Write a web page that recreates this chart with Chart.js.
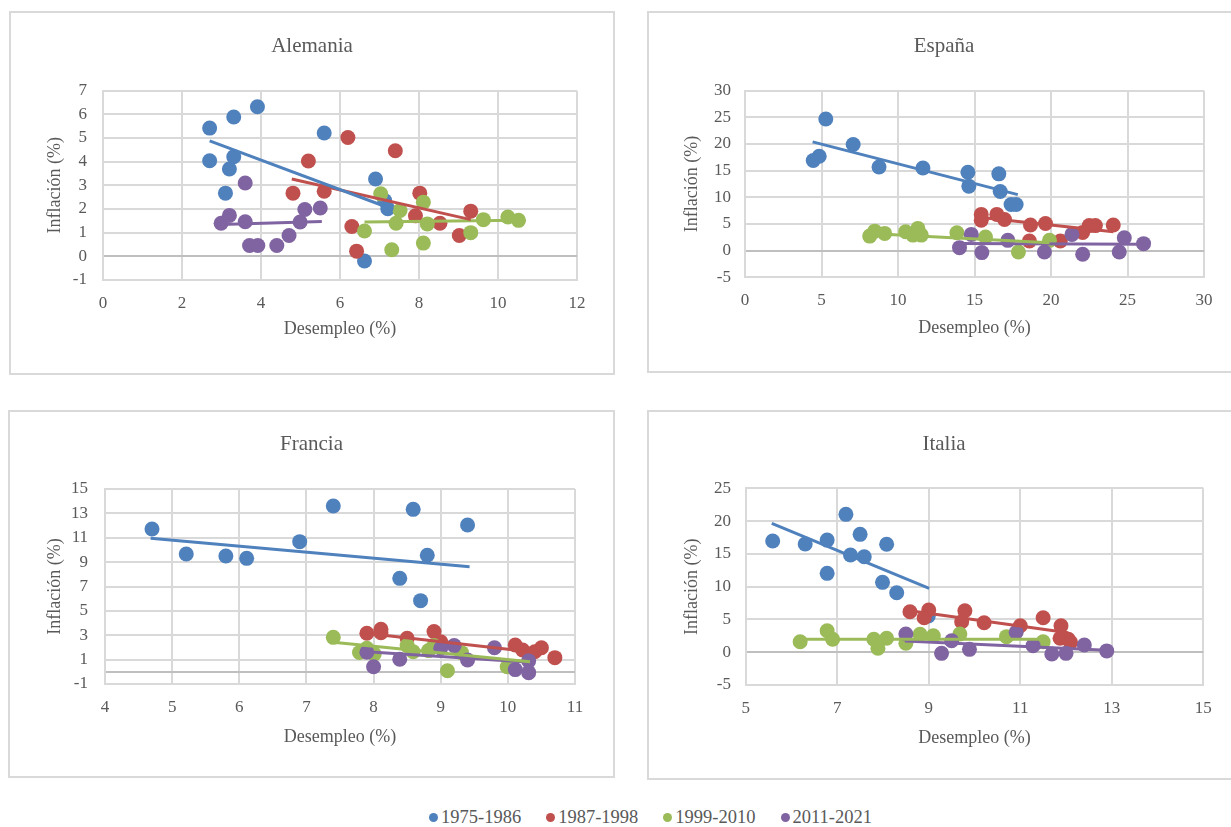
<!DOCTYPE html>
<html lang="es">
<head>
<meta charset="UTF-8">
<title>Inflación y desempleo: Alemania, España, Francia, Italia</title>
<script src="https://cdn.jsdelivr.net/npm/chart.js"></script>
<style>
  body {
    margin: 0;
    width: 1231px;
    height: 827px;
    overflow: hidden;
    background: #fff;
    position: relative;
    font-family: "Liberation Serif", "Times New Roman", serif;
  }
  .panel {
    position: absolute;
    box-sizing: border-box;
    border: 2px solid #d9d9d9;
    background: #fff;
  }
  .panel canvas { display: block; }
  #p1 { left: 9px; top: 11px; width: 606px; height: 364px; }
  #p2 { left: 647px; top: 11px; width: 594px; height: 362px; }
  #p3 { left: 8px; top: 410px; width: 607px; height: 368px; }
  #p4 { left: 647px; top: 410px; width: 594px; height: 370px; }
  .legend {
    position: absolute;
    left: 429px;
    top: 807px;
    display: flex;
    gap: 25px;
    font-size: 18.5px;
    color: #595959;
  }
  .legend span { display: flex; align-items: center; }
  .legend i {
    display: inline-block;
    width: 9px;
    height: 9px;
    border-radius: 50%;
    margin-right: 3px;
  }
</style>
</head>
<body>
<div class="panel" id="p1"><canvas id="alemania" width="602" height="360"></canvas></div>
<div class="panel" id="p2"><canvas id="espana" width="590" height="358"></canvas></div>
<div class="panel" id="p3"><canvas id="francia" width="603" height="364"></canvas></div>
<div class="panel" id="p4"><canvas id="italia" width="590" height="366"></canvas></div>

<div class="legend" id="leyenda"></div>

<script>
// periodos y colores
const periodos = ['1975-1986', '1987-1998', '1999-2010', '2011-2021'];
const colores = ['#4f81bd', '#c0504d', '#9bbb59', '#8064a2'];

// Alemania: [desempleo, inflación]
const alemania1975 = [[2.70,5.42],[3.31,5.89],[3.91,6.32],[5.60,5.21],[2.70,4.04],[3.31,4.21],[3.20,3.69],[3.10,2.67],[6.90,3.27],[7.13,2.36],[7.21,2.01],[6.62,-0.20]];
const alemania1987 = [[6.20,5.02],[7.40,4.46],[5.20,4.03],[4.81,2.67],[5.60,2.75],[8.02,2.67],[9.31,1.91],[7.91,1.71],[8.53,1.40],[6.30,1.26],[9.02,0.88],[6.42,0.22]];
const alemania1999 = [[7.03,2.64],[8.11,2.29],[7.52,1.94],[7.42,1.40],[8.21,1.37],[9.63,1.55],[10.25,1.66],[10.52,1.52],[9.31,1.00],[6.62,1.07],[7.31,0.28],[8.11,0.56]];
const alemania2011 = [[3.60,3.10],[3.20,1.73],[2.99,1.40],[3.60,1.46],[5.11,1.98],[5.50,2.04],[4.99,1.45],[4.71,0.88],[3.71,0.46],[3.92,0.46],[4.40,0.46]];
const alemaniaTend = [
  [[2.70,4.88],[7.35,1.98]],
  [[4.78,3.27],[9.31,1.55]],
  [[6.62,1.45],[10.52,1.52]],
  [[2.99,1.35],[5.54,1.47]]
];

// España
const espana1975 = [[5.28,24.7],[7.07,19.9],[4.85,17.7],[4.46,16.9],[8.76,15.7],[11.63,15.5],[14.57,14.7],[14.63,12.1],[16.59,14.4],[16.68,11.1],[17.39,8.65],[17.72,8.65]];
const espana1987 = [[15.44,6.8],[16.46,6.8],[15.44,5.7],[16.96,5.85],[18.66,4.8],[19.64,5.1],[22.5,4.7],[22.9,4.7],[24.07,4.8],[22.07,3.4],[18.59,1.8],[20.61,1.8]];
const espana1999 = [[8.15,2.73],[8.48,3.66],[9.13,3.23],[10.5,3.55],[10.98,2.92],[11.3,4.17],[11.52,2.92],[13.85,3.36],[15.72,2.54],[19.9,1.93],[17.87,-0.26]];
const espana2011 = [[14.79,3.05],[14.02,0.56],[15.48,-0.37],[17.18,1.93],[19.57,-0.26],[21.37,3.05],[22.07,-0.69],[24.46,-0.26],[24.79,2.43],[26.05,1.31]];
const espanaTend = [
  [[4.42,20.4],[17.83,10.5]],
  [[15.44,6.2],[24.07,3.55]],
  [[8.15,3.23],[19.9,1.5]],
  [[14.02,1.36],[26.05,1.2]]
];

// Francia
const francia1975 = [[4.70,11.72],[5.21,9.67],[5.80,9.50],[6.11,9.31],[6.90,10.68],[7.40,13.61],[8.59,13.33],[9.40,12.05],[8.80,9.56],[8.39,7.67],[8.70,5.84]];
const francia1987 = [[7.90,3.16],[8.11,3.49],[8.11,3.2],[8.50,2.75],[8.90,3.30],[9.0,2.47],[10.11,2.2],[10.22,1.79],[10.40,1.65],[10.50,1.98],[10.70,1.16]];
const francia1999 = [[7.40,2.83],[7.79,1.59],[7.90,1.93],[8.01,1.46],[8.50,2.15],[8.59,1.65],[8.82,1.74],[8.90,2.15],[9.31,1.57],[9.10,0.09],[9.99,0.42]];
const francia2011 = [[7.90,1.6],[8.0,0.42],[8.39,1.03],[9.0,1.93],[9.20,2.15],[9.40,0.97],[9.80,1.98],[10.11,0.18],[10.31,0.9],[10.31,-0.07]];
const franciaTend = [
  [[4.68,10.95],[9.43,8.63]],
  [[7.82,3.21],[10.53,1.52]],
  [[7.40,2.42],[10.33,0.83]],
  [[7.90,1.65],[10.33,0.78]]
];
const franciaTicksY = [-1, 0, 1, 3, 5, 7, 9, 11, 13, 15];

// Italia
const italia1975 = [[7.19,21.03],[5.59,16.96],[6.30,16.5],[6.78,17.1],[7.50,17.98],[8.08,16.46],[7.29,14.83],[7.59,14.57],[6.78,12.03],[7.99,10.66],[8.30,9.08],[8.99,5.52]];
const italia1987 = [[8.59,6.18],[9.0,6.44],[8.90,5.26],[9.79,6.33],[9.72,4.65],[10.21,4.5],[11.0,4.04],[11.50,5.26],[11.89,4.04],[11.87,2.12],[12.05,1.97],[12.1,1.5]];
const italia1999 = [[6.19,1.6],[6.78,3.28],[6.90,1.97],[7.80,1.97],[7.89,0.6],[8.08,2.12],[8.50,1.36],[8.81,2.73],[9.10,2.52],[9.68,2.78],[10.70,2.37],[11.50,1.6]];
const italia2011 = [[8.50,2.78],[9.28,-0.17],[9.50,1.75],[9.89,0.44],[10.91,3.04],[11.28,1.0],[11.69,-0.27],[12.0,-0.17],[12.40,1.1],[12.89,0.2]];
const italiaTend = [
  [[5.57,19.66],[9.01,9.75]],
  [[8.59,6.33],[12.05,2.97]],
  [[6.19,1.97],[11.5,1.97]],
  [[8.48,1.71],[12.89,0.3]]
];

const fuente = "'Liberation Serif', 'Times New Roman', serif";
const gris = '#595959';
const rejilla = '#d9d9d9';

function aPuntos(lista) {
  return lista.map(p => ({ x: p[0], y: p[1] }));
}

function grafico(id, titulo, series, tendencias, c) {
  const datasets = [];
  series.forEach((s, i) => {
    datasets.push({
      label: periodos[i],
      data: aPuntos(s),
      backgroundColor: colores[i],
      borderWidth: 0,
      pointRadius: 7.5,
      pointHoverRadius: 7.5,
      order: 10 - i
    });
  });
  tendencias.forEach((t, i) => {
    datasets.push({
      label: 'Lineal (' + periodos[i] + ')',
      data: aPuntos(t),
      showLine: true,
      borderColor: colores[i],
      borderWidth: 3,
      pointRadius: 0,
      fill: false,
      order: 0
    });
  });

  new Chart(document.getElementById(id), {
    type: 'scatter',
    data: { datasets },
    options: {
      responsive: false,
      animation: false,
      layout: { padding: 0 },
      plugins: {
        legend: { display: false },
        tooltip: { enabled: false },
        title: {
          display: true,
          text: titulo,
          color: gris,
          font: { family: fuente, size: 21, weight: 'normal' },
          padding: { top: c.tTop, bottom: c.tBottom }
        }
      },
      scales: {
        x: {
          type: 'linear',
          min: c.xMin, max: c.xMax,
          ticks: { stepSize: c.xStep, padding: 13, color: gris, font: { family: fuente, size: 17 } },
          grid: { color: rejilla, lineWidth: 2, drawTicks: false },
          border: { color: rejilla, width: 2 },
          title: {
            display: true, text: 'Desempleo (%)', color: gris,
            font: { family: fuente, size: 18 },
            padding: { top: 0, bottom: c.xTitle }
          },
          afterFit: s => { s.height = c.xH; }
        },
        y: {
          type: 'linear',
          min: c.yMin, max: c.yMax,
          afterBuildTicks: c.yTicks ? (s => { s.ticks = c.yTicks.map(v => ({ value: v })); }) : undefined,
          ticks: {
            stepSize: c.yStep, padding: c.yPad, color: gris, autoSkip: false,
            font: { family: fuente, size: 17 },
            callback: v => (c.yTicks && v === 0) ? '' : v
          },
          grid: {
            color: ctx => (ctx.tick && ctx.tick.value === 0) ? '#bfbfbf' : rejilla,
            lineWidth: 2, drawTicks: false
          },
          border: { color: rejilla, width: 2 },
          title: {
            display: true, text: 'Inflación (%)', color: gris,
            font: { family: fuente, size: 18 },
            padding: { top: c.yTitle, bottom: 0 }
          },
          afterFit: s => { s.width = c.yW; }
        },
        // margen derecho vacío, para que el título quede centrado en todo el recuadro
        margen: {
          type: 'linear',
          position: 'right',
          display: true,
          grid: { display: false, drawTicks: false },
          border: { display: false },
          ticks: { display: false },
          afterFit: s => { s.width = c.right; }
        }
      }
    }
  });
}

grafico('alemania', 'Alemania',
  [alemania1975, alemania1987, alemania1999, alemania2011], alemaniaTend,
  { xMin: 0, xMax: 12, xStep: 2, yMin: -1, yMax: 7, yStep: 1,
    yW: 92, xH: 93, right: 36, tTop: 20.4, tBottom: 32.1, yTitle: 33.2, xTitle: 33.2, yPad: 16 });

grafico('espana', 'España',
  [espana1975, espana1987, espana1999, espana2011], espanaTend,
  { xMin: 0, xMax: 30, xStep: 5, yMin: -5, yMax: 30, yStep: 5,
    yW: 96, xH: 93.7, right: 35, tTop: 20.4, tBottom: 32.1, yTitle: 32.2, xTitle: 32.2, yPad: 14 });

grafico('francia', 'Francia',
  [francia1975, francia1987, francia1999, francia2011], franciaTend,
  { xMin: 4, xMax: 11, xStep: 1, yMin: -1, yMax: 15, yStep: 2,
    yTicks: franciaTicksY,
    yW: 95, xH: 92, right: 38, tTop: 19.4, tBottom: 32.4, yTitle: 34.2, xTitle: 28.2, yPad: 17 });

grafico('italia', 'Italia',
  [italia1975, italia1987, italia1999, italia2011], italiaTend,
  { xMin: 5, xMax: 15, xStep: 2, yMin: -5, yMax: 25, yStep: 5,
    yW: 96.7, xH: 93, right: 35.7, tTop: 19.4, tBottom: 31.7, yTitle: 32.2, xTitle: 29.2, yPad: 14.7 });

// leyenda común
const leyenda = document.getElementById('leyenda');
periodos.forEach((p, i) => {
  const item = document.createElement('span');
  item.innerHTML = '<i style="background:' + colores[i] + '"></i>' + p;
  leyenda.appendChild(item);
});
</script>
</body>
</html>
